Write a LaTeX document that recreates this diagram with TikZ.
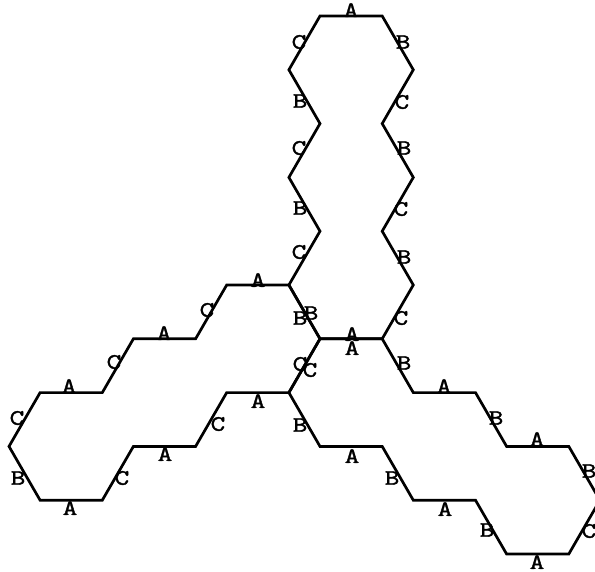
\documentclass[tikz,border=0pt]{standalone}
\usepackage{fontspec}
\newfontfamily\labfont[FakeStretch=1.3,FakeBold=1.6]{Latin Modern Mono}
\begin{document}
\begin{tikzpicture}[x=1pt,y=-1pt,
  edge/.style={line width=2.7pt,line join=miter},
  lab/.style={inner sep=0pt,font=\labfont\fontsize{22}{22}\selectfont}]
\useasboundingbox (0,0) rectangle (595,571);
\foreach \n/\k in {10/0,12/0,13/1,12/2,13/3,12/4,13/5,12/6,10/6,9/5,10/4,9/3,10/2,9/1,
  7/5,6/6,4/6,3/7,1/7,0/8,1/9,3/9,4/8,6/8,7/7,9/7,
  13/7,15/7,16/8,18/8,19/9,18/10,16/10,15/9,13/9,12/8,10/8}
  \coordinate (v\n-\k) at ({9+31.1*\n},{16+53.8*\k});
% top arm
\draw[edge] (v10-0) -- (v12-0) -- (v13-1) -- (v12-2) -- (v13-3) -- (v12-4) -- (v13-5) -- (v12-6)
  -- (v10-6) -- (v9-5) -- (v10-4) -- (v9-3) -- (v10-2) -- (v9-1) -- cycle;
% left arm
\draw[edge] (v9-5) -- (v7-5) -- (v6-6) -- (v4-6) -- (v3-7) -- (v1-7) -- (v0-8) -- (v1-9)
  -- (v3-9) -- (v4-8) -- (v6-8) -- (v7-7) -- (v9-7) -- (v10-6) -- cycle;
% bottom-right arm
\draw[edge] (v10-6) -- (v12-6) -- (v13-7) -- (v15-7) -- (v16-8) -- (v18-8) -- (v19-9) -- (v18-10)
  -- (v16-10) -- (v15-9) -- (v13-9) -- (v12-8) -- (v10-8) -- (v9-7) -- cycle;
% labels, top arm
\node[lab] (t1) at (351,10) {A};
\node[lab] (t2) at (403,42) {B};
\node[lab] (t3) at (402,102) {C};
\node[lab] (t4) at (404,148) {B};
\node[lab] (t5) at (401,209) {C};
\node[lab] (t6) at (404,257) {B};
\node[lab] (t7) at (401,318) {C};
\node[lab] (t8) at (352,348) {A};
\node[lab] (t9) at (300,318) {B};
\node[lab] (t10) at (299,252) {C};
\node[lab] (t11) at (300,208) {B};
\node[lab] (t12) at (299,148) {C};
\node[lab] (t13) at (300,101) {B};
\node[lab] (t14) at (299,42) {C};
% labels, left arm
\node[lab] (l1) at (258,280) {A};
\node[lab] (l2) at (207,310) {C};
\node[lab] (l3) at (164,333) {A};
\node[lab] (l4) at (114,362) {C};
\node[lab] (l5) at (69,386) {A};
\node[lab] (l6) at (17,418) {C};
\node[lab] (l7) at (18,478) {B};
\node[lab] (l8) at (70,508) {A};
\node[lab] (l9) at (122,478) {C};
\node[lab] (l10) at (165,454) {A};
\node[lab] (l11) at (218,424) {C};
\node[lab] (l12) at (258,401) {A};
\node[lab] (l13) at (310,370) {C};
\node[lab] (l14) at (311,313) {B};
% labels, bottom-right arm
\node[lab] (r1) at (352,334) {A};
\node[lab] (r2) at (404,363) {B};
\node[lab] (r3) at (444,386) {A};
\node[lab] (r4) at (496,418) {B};
\node[lab] (r5) at (537,439) {A};
\node[lab] (r6) at (589,471) {B};
\node[lab] (r7) at (589,531) {C};
\node[lab] (r8) at (537,562) {A};
\node[lab] (r9) at (487,530) {B};
\node[lab] (r10) at (445,509) {A};
\node[lab] (r11) at (392,478) {B};
\node[lab] (r12) at (352,456) {A};
\node[lab] (r13) at (300,425) {B};
\node[lab] (r14) at (300,364) {C};
\end{tikzpicture}
\end{document}
